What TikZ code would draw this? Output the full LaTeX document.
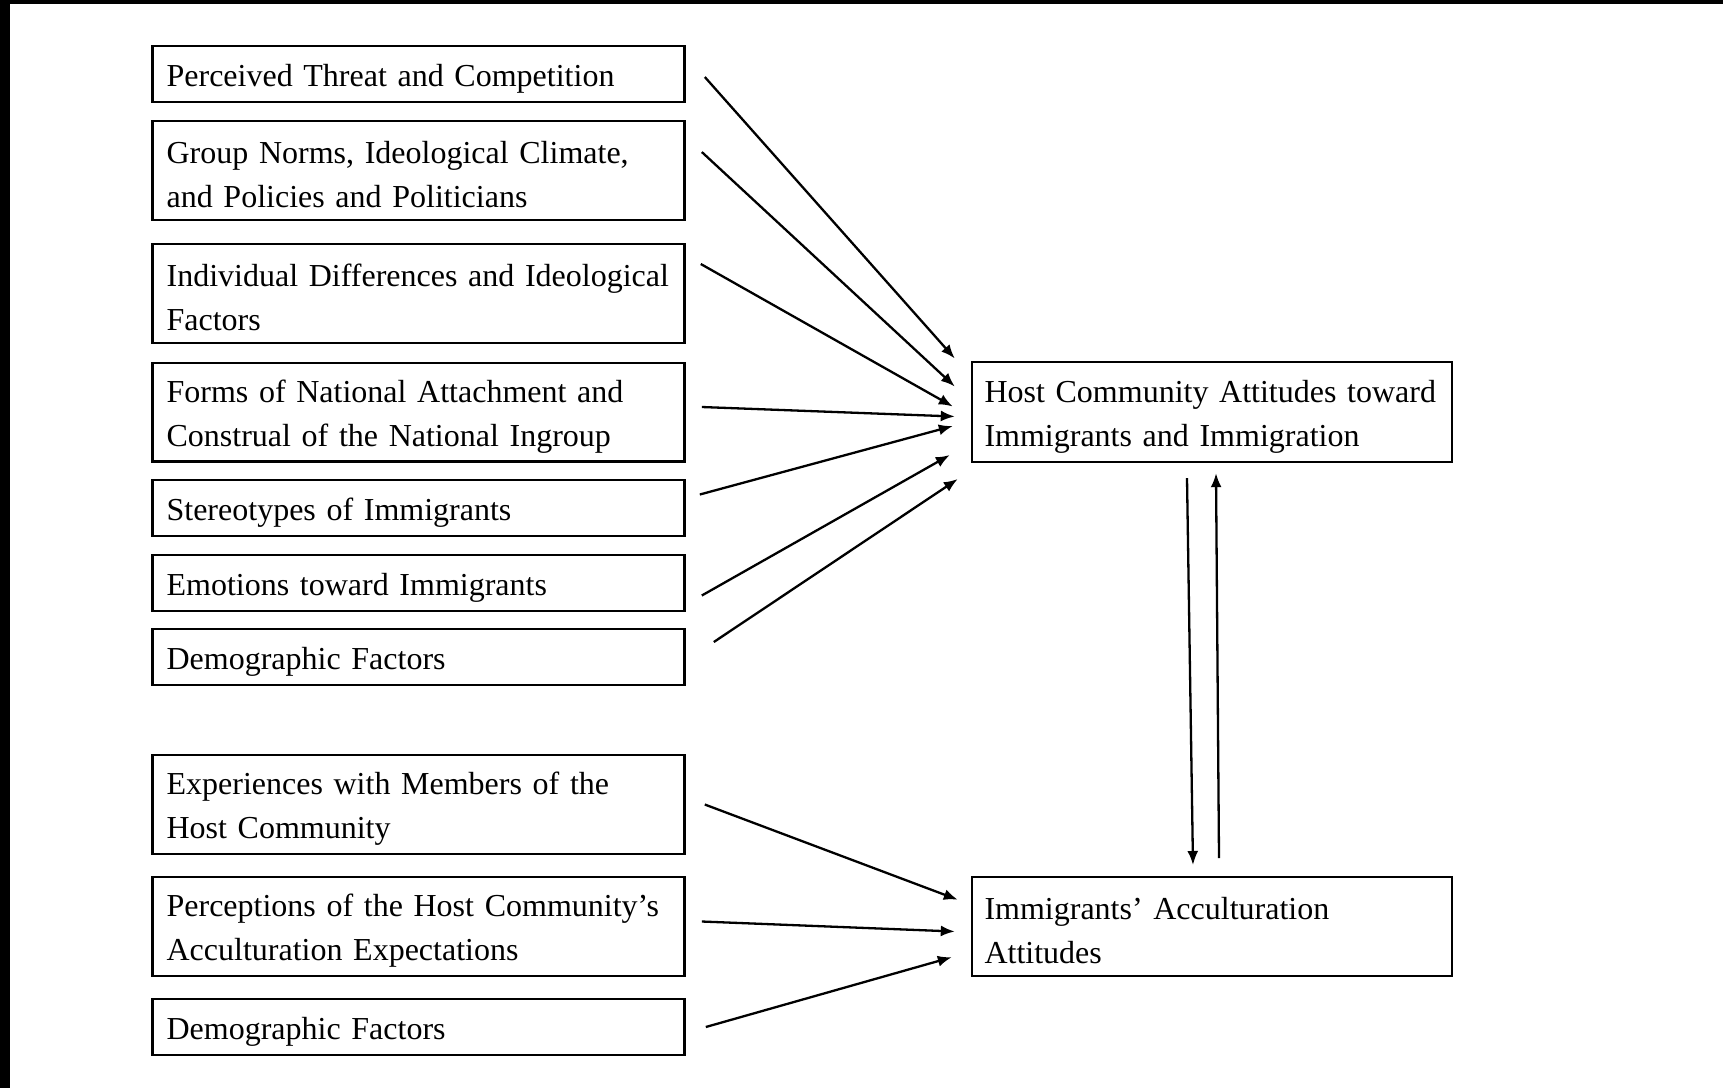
\documentclass[tikz,border=0pt]{standalone}
\usepackage{fontspec}
\setmainfont{Liberation Serif}
\usetikzlibrary{arrows.meta, positioning}
\tikzset{
  factor/.style={draw, line width=2.4pt, text width=504pt, text height=31pt, inner xsep=14pt, inner ysep=4pt, align=left, minimum height=55.6pt, font=\fontsize{32}{44}\selectfont},
  twoline/.style={minimum height=98.6pt},
  outcome/.style={factor, twoline, text width=455pt, inner xsep=12.5pt},
  link/.style={-{Latex[length=14pt,width=11pt]}, line width=2.3pt}
}

\begin{document}
\begin{tikzpicture}[x=1pt, y=-1pt]
  \useasboundingbox (0,0) rectangle (1723,1088);
  % edges of the slide frame
  \fill (0,0) rectangle (1723,4);
  \fill (0,0) rectangle (10,1088);

  % factors for the host community
  \node[factor] (threat) at (418.6,74) {Perceived Threat and Competition};
  \node[factor, twoline, below=17pt of threat] (norms) {Group Norms, Ideological Climate,\\and Policies and Politicians};
  \node[factor, twoline, below=22pt of norms] (indiv) {Individual Differences and Ideological\\Factors};
  \node[factor, twoline, below=17.5pt of indiv] (nation) {Forms of National Attachment and\\Construal of the National Ingroup};
  \node[factor, below=16.5pt of nation] (stereo) {Stereotypes of Immigrants};
  \node[factor, below=17pt of stereo] (emotion) {Emotions toward Immigrants};
  \node[factor, below=16pt of emotion] (demoH) {Demographic Factors};

  % factors for the immigrants
  \node[factor, twoline, below=68pt of demoH] (exper) {Experiences with Members of the\\Host Community};
  \node[factor, twoline, below=21pt of exper] (percep) {Perceptions of the Host Community’s\\Acculturation Expectations};
  \node[factor, below=21pt of percep] (demoI) {Demographic Factors};

  % outcomes
  \node[outcome, right=285pt of nation, minimum height=100pt] (host) {Host Community Attitudes toward\\Immigrants and Immigration};
  \node[outcome, right=285pt of percep] (accult) {Immigrants’ Acculturation\\Attitudes};

  \draw[link] ([xshift=19pt,yshift=-3pt]threat.east) -- ([xshift=-16pt,yshift=53.5pt]host.west);
  \draw[link] ([xshift=16pt,yshift=18.5pt]norms.east) -- ([xshift=-16pt,yshift=25.5pt]host.west);
  \draw[link] ([xshift=15pt,yshift=29.5pt]indiv.east) -- ([xshift=-18pt,yshift=5.5pt]host.west);
  \draw[link] ([xshift=16pt,yshift=5pt]nation.east) -- ([xshift=-16pt,yshift=-4.5pt]host.west);
  \draw[link] ([xshift=14pt,yshift=13.5pt]stereo.east) -- ([xshift=-18pt,yshift=-14pt]host.west);
  \draw[link] ([xshift=16pt,yshift=-12.5pt]emotion.east) -- ([xshift=-21pt,yshift=-43pt]host.west);
  \draw[link] ([xshift=28pt,yshift=15pt]demoH.east) -- ([xshift=-13pt,yshift=-67pt]host.west);

  \draw[link] ([xshift=19pt]exper.east) -- ([xshift=-13pt,yshift=26.8pt]accult.west);
  \draw[link] ([xshift=16pt,yshift=5pt]percep.east) -- ([xshift=-16pt,yshift=-5pt]accult.west);
  \draw[link] ([xshift=20pt]demoI.east) -- ([xshift=-19pt,yshift=-30.7pt]accult.west);

  \draw[link] ([xshift=-25pt,yshift=-15pt]host.south) -- ([xshift=-19pt,yshift=11pt]accult.north);
  \draw[link] ([xshift=7pt,yshift=18pt]accult.north) -- ([xshift=4pt,yshift=-10pt]host.south);
\end{tikzpicture}
\end{document}
